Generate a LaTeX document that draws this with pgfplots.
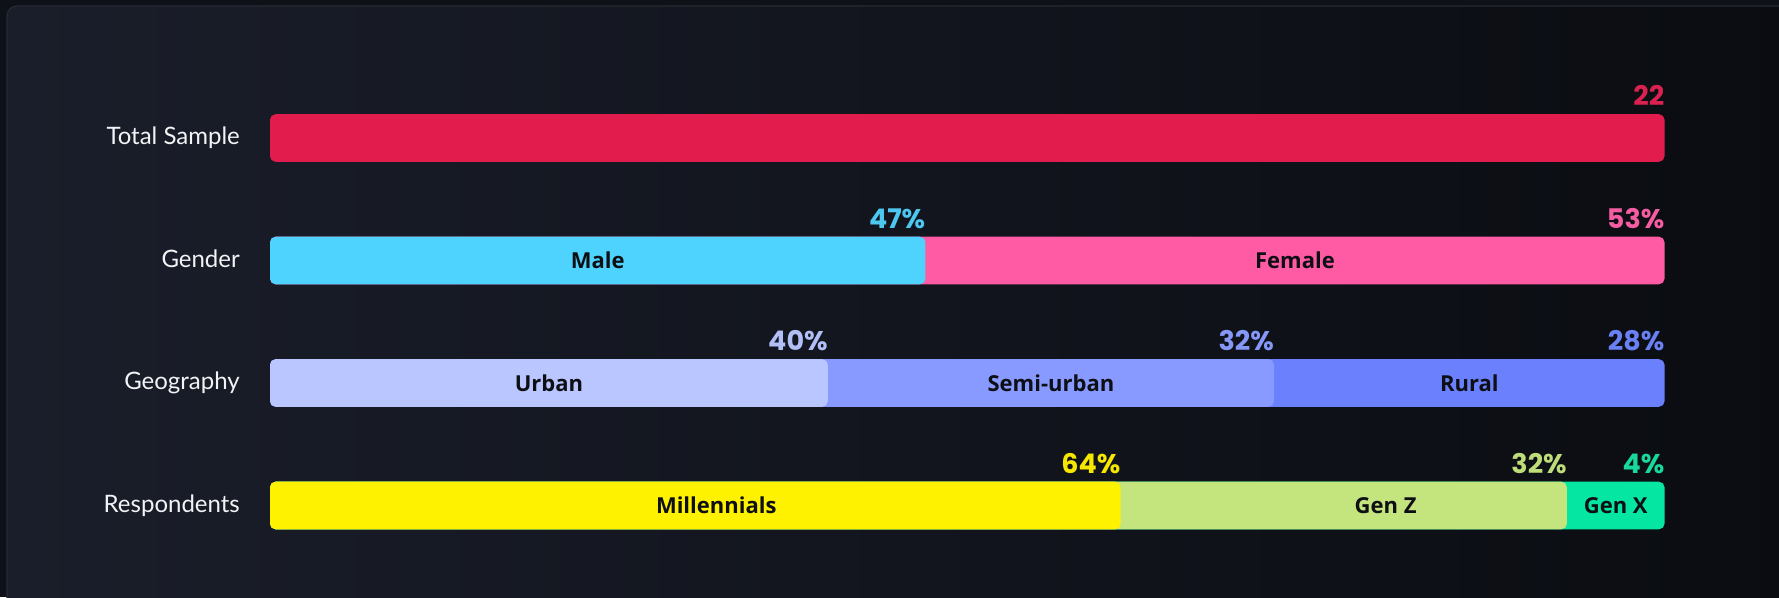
\documentclass[border=0pt]{standalone}
\usepackage{fontspec}
\usepackage{pgfplots}
\pgfplotsset{compat=1.18}
\setmainfont{Lato}
\newfontfamily\catfont{Lato}
\newfontfamily\infont{Open Sans}
\newfontfamily\valfont{Poppins}
\definecolor{outer}{HTML}{0E1117}
\definecolor{panelL}{HTML}{1A1E2A}
\definecolor{panelR}{HTML}{0A0C11}
\definecolor{panelEdge}{HTML}{262A32}
\definecolor{catc}{HTML}{F2F3F5}
\definecolor{inc}{HTML}{0D0F14}
\definecolor{cTotal}{HTML}{E31C4E}
\definecolor{vTotal}{HTML}{DA2150}
\definecolor{cMale}{HTML}{4DD3FD}
\definecolor{vMale}{HTML}{4CC8F0}
\definecolor{cFemale}{HTML}{FF5AA4}
\definecolor{vFemale}{HTML}{F65CA2}
\definecolor{cUrban}{HTML}{B9C6FF}
\definecolor{vUrban}{HTML}{B2BFF6}
\definecolor{cSemi}{HTML}{8899FF}
\definecolor{vSemi}{HTML}{8597F7}
\definecolor{cRural}{HTML}{6A80FD}
\definecolor{vRural}{HTML}{6A80F5}
\definecolor{cMill}{HTML}{FFF200}
\definecolor{vMill}{HTML}{F5E700}
\definecolor{cGenZ}{HTML}{C4E47E}
\definecolor{vGenZ}{HTML}{BEDD79}
\definecolor{cGenX}{HTML}{05E6A2}
\definecolor{vGenX}{HTML}{18D99B}
\begin{document}
\begin{tikzpicture}
\useasboundingbox (0,0) rectangle (1779pt,597pt);
\begin{scope}
\clip (0,0) rectangle (1779pt,597pt);
\fill[outer] (0,0) rectangle (1779pt,597pt);
\shade[left color=panelL, right color=panelR, rounded corners=10pt] (7pt,-30pt) rectangle (1810pt,591pt);
\draw[panelEdge, line width=1.2pt, rounded corners=10pt] (7pt,-30pt) -- (7pt,591pt) -- (1810pt,591pt);
\end{scope}
\begin{axis}[
  at={(0pt,0pt)}, anchor=south west,
  scale only axis, width=1779pt, height=597pt,
  xmin=-19.362, xmax=108.21,
  ymin=-1.1265, ymax=3.747, y dir=reverse,
  axis lines=none, clip=false,
  every axis plot/.append style={xbar, bar width=0.388, bar shift=0pt, draw=none, rounded corners=5.5pt},
  nodes near coords style={anchor=base east, yshift=32.3pt, xshift=0pt, inner sep=0pt, font=\valfont\bfseries\fontsize{27}{27}\selectfont},
]
% Total sample
\addplot[fill=cTotal, nodes near coords={\color{vTotal}22}] coordinates {(100,0)};
% Gender (cumulative ends: 47, 100)
\addplot[fill=cFemale, nodes near coords={\color{vFemale}53\%}] coordinates {(100,1)};
\addplot[fill=cMale, nodes near coords={\color{vMale}47\%}] coordinates {(47,1)};
% Geography (cumulative ends: 40, 72, 100)
\addplot[fill=cRural, nodes near coords={\color{vRural}28\%}] coordinates {(100,2)};
\addplot[fill=cSemi, nodes near coords={\color{vSemi}32\%}] coordinates {(72,2)};
\addplot[fill=cUrban, nodes near coords={\color{vUrban}40\%}] coordinates {(40,2)};
% Respondents (drawn ends: 61, 93, 100)
\addplot[fill=cGenX, nodes near coords={\color{vGenX}4\%}] coordinates {(100,3)};
\addplot[fill=cGenZ, nodes near coords={\color{vGenZ}32\%}] coordinates {(93,3)};
\addplot[fill=cMill, nodes near coords={\color{vMill}64\%}] coordinates {(61,3)};

% category labels
\begin{scope}[every node/.style={anchor=base east, inner sep=0pt, text=catc, font=\catfont\fontsize{24}{24}\selectfont}]
\node at (axis cs:-2.151,0.057) {Total Sample};
\node at (axis cs:-2.151,1.057) {Gender};
\node at (axis cs:-2.151,2.057) {Geography};
\node at (axis cs:-2.151,3.057) {Respondents};
\end{scope}
% segment labels
\begin{scope}[every node/.style={anchor=base, inner sep=0pt, text=inc, font=\infont\bfseries\fontsize{22}{22}\selectfont}]
\node at (axis cs:23.5,1.069) {Male};
\node at (axis cs:73.5,1.069) {Female};
\node at (axis cs:20,2.069) {Urban};
\node at (axis cs:56,2.069) {Semi-urban};
\node at (axis cs:86,2.069) {Rural};
\node at (axis cs:32,3.069) {Millennials};
\node at (axis cs:80,3.069) {Gen Z};
\node at (axis cs:96.5,3.069) {Gen X};
\end{scope}
\end{axis}
\end{tikzpicture}
\end{document}
